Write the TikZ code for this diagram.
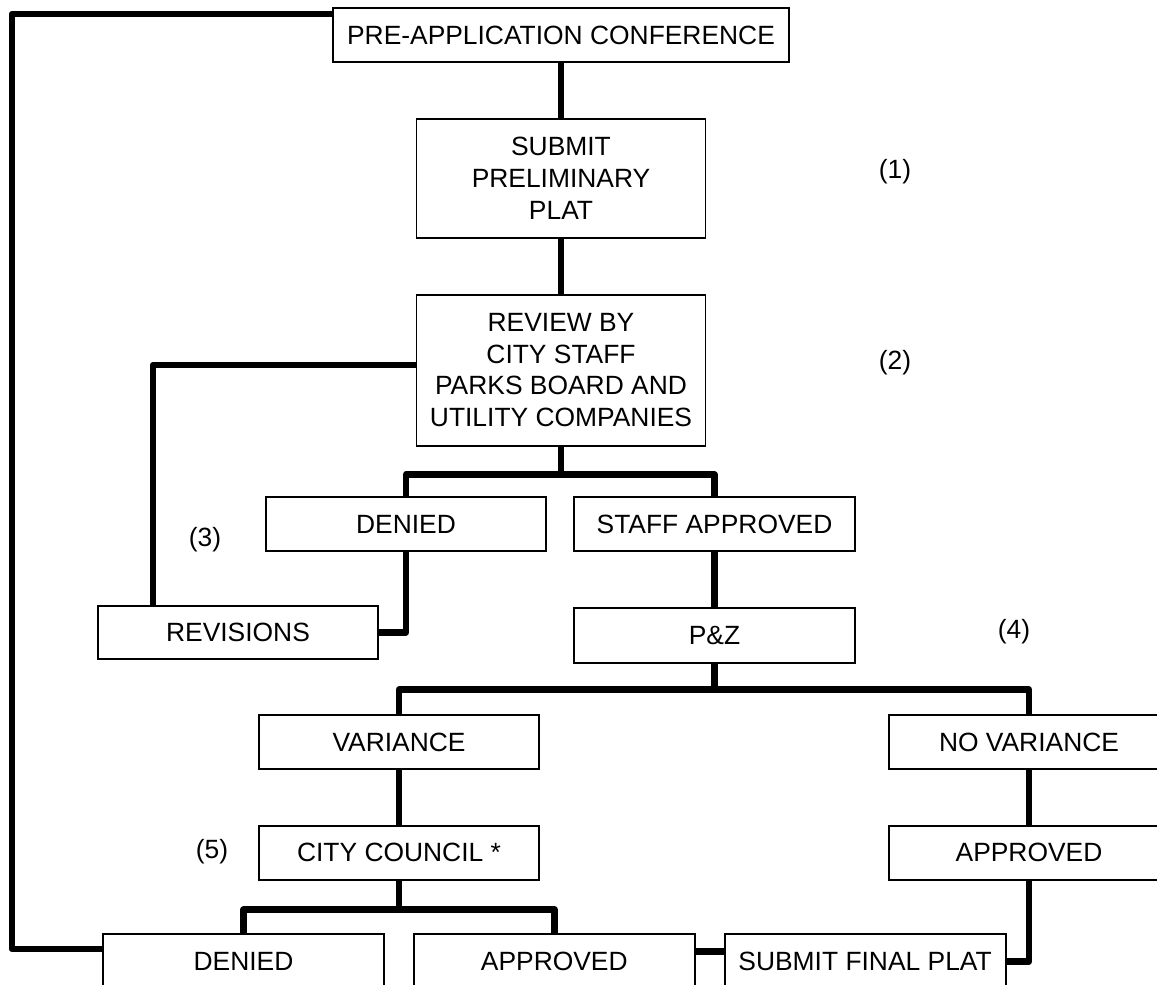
\documentclass[tikz,border=0pt]{standalone}
\usepackage{fontspec}
\setmainfont{Liberation Sans}
\usetikzlibrary{positioning}

\begin{document}
\begin{tikzpicture}[x=1pt,y=-1pt,node distance=0pt and 0pt,
  box/.style={rectangle,draw,line width=1.8pt,minimum width=280pt,minimum height=54pt,inner sep=0pt,align=center,font=\fontsize{26.4}{31.7}\selectfont},
  tag/.style={inner sep=0pt,font=\fontsize{26.4}{31.7}\selectfont},
  link/.style={line width=6.5pt,line join=round}]

        \useasboundingbox (0,0) rectangle (1157,985);

        \node[box,minimum width=456pt] (preApp) at (561,35) {PRE-APPLICATION CONFERENCE};
        \node[box,minimum width=289pt,minimum height=119pt] (submitPre) [below=55pt of preApp] {SUBMIT\\PRELIMINARY\\PLAT};
        \node[box,minimum width=289pt,minimum height=151pt] (review) [below=55pt of submitPre] {REVIEW BY\\CITY STAFF\\PARKS BOARD AND\\UTILITY COMPANIES};
        \node[box] (deniedA) at (406,524) {DENIED};
        \node[box,minimum width=281pt] (staffOk) at (714.5,524) {STAFF APPROVED};
        \node[box,minimum height=53pt] (revisions) at (238,632.5) {REVISIONS};
        \node[box,minimum width=281pt,minimum height=55pt] (pz) [below=55pt of staffOk] {P\&Z};
        \node[box] (variance) at (399,742) {VARIANCE};
        \node[box] (noVariance) at (1029,742) {NO VARIANCE};
        \node[box] (council) [below=55pt of variance] {CITY COUNCIL *};
        \node[box] (approvedR) [below=55pt of noVariance] {APPROVED};
        \node[box,minimum width=281pt,minimum height=55pt] (deniedB) at (243.5,961.5) {DENIED};
        \node[box,minimum width=281pt,minimum height=55pt] (approvedB) [right=28pt of deniedB] {APPROVED};
        \node[box,minimum width=281pt,minimum height=55pt] (finalPlat) [right=28pt of approvedB] {SUBMIT FINAL PLAT};

        \node[tag] (note1) at (895,172) {(1)};
        \node[tag] (note2) at (895,363) {(2)};
        \node[tag] (note3) at (205,540) {(3)};
        \node[tag] (note4) at (1014,632) {(4)};
        \node[tag] (note5) at (212,852) {(5)};

        \coordinate (split1) at ([yshift=-28pt]review.south);
        \coordinate (split2) at ([yshift=-26pt]pz.south);
        \coordinate (split3) at ([yshift=-29pt]council.south);
        \coordinate (corner) at (12,14);

        \draw[link] (preApp.south) -- (submitPre.north);
        \draw[link] (submitPre.south) -- (review.north);
        \draw[link] (review.south) -- (split1);
        \draw[link] (deniedA.north) |- (split1) -| (staffOk.north);
        \draw[link] ([yshift=5pt]review.west) -| ([xshift=-85pt]revisions.north);
        \draw[link] (deniedA.south) |- (revisions.east);
        \draw[link] (staffOk.south) -- (pz.north);
        \draw[link] (pz.south) -- (split2);
        \draw[link] (variance.north) |- (split2) -| (noVariance.north);
        \draw[link] (variance.south) -- (council.north);
        \draw[link] (noVariance.south) -- (approvedR.north);
        \draw[link] (council.south) -- (split3);
        \draw[link] (deniedB.north) |- (split3) -| (approvedB.north);
        \draw[link] ([yshift=10pt]approvedB.east) -- ([yshift=10pt]finalPlat.west);
        \draw[link] (approvedR.south) |- (finalPlat.east);
        \draw[link] ([yshift=12.5pt]deniedB.west) -| (corner) -- ([yshift=21pt]preApp.west);

      \end{tikzpicture}
\end{document}
